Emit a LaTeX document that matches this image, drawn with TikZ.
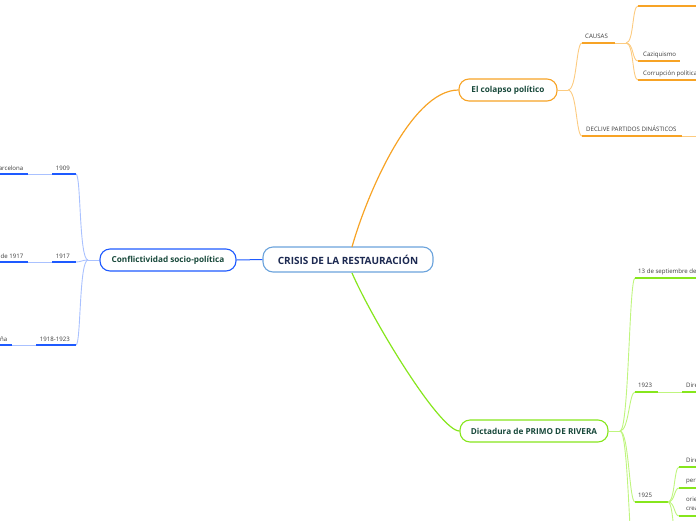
\documentclass[tikz,border=0pt]{standalone}
\usepackage{fontspec}
\setmainfont{Open Sans}
\definecolor{blueD}{HTML}{1E5AFF}
\definecolor{blueL}{HTML}{A9C1FF}
\definecolor{orD}{HTML}{F7A325}
\definecolor{orL}{HTML}{FCCB80}
\definecolor{grD}{HTML}{86E61C}
\definecolor{grL}{HTML}{BFF57E}
\definecolor{cborder}{HTML}{6BA3DC}
\definecolor{navy}{HTML}{1C2951}
\definecolor{dkgreen}{HTML}{17483A}
\definecolor{leaftxt}{HTML}{3A3A3A}
\tikzset{
  topic/.style={draw, fill=white, rounded corners=10pt, line width=1.1pt, inner sep=0pt,
    font=\bfseries\fontsize{8.2}{9.5}\selectfont, text=dkgreen, minimum height=22pt},
  leaf/.style={inner sep=0pt, font=\fontsize{6.1}{7}\selectfont, text=leaftxt},
  uline/.style={line width=1.6pt},
  conn/.style={line width=0.9pt}
}
\begin{document}
\begin{tikzpicture}[x=1pt,y=-1pt]
\useasboundingbox (0,0) rectangle (696,520);
\clip (0,0) rectangle (696,520);

% ---------- main nodes ----------
\node[topic, draw=cborder, text=navy, minimum width=170pt, minimum height=25pt,
      font=\bfseries\fontsize{10}{12}\selectfont] (c) at (348,259.5) {CRISIS DE LA RESTAURACIÓN};
\node[topic, draw=blueD, minimum width=136pt] (conf) at (168,260) {Conflictividad socio-política};
\node[topic, draw=orD, minimum width=98pt] (col) at (508,90) {El colapso político};
\node[topic, draw=grD, minimum width=148pt] (dict) at (534,431) {Dictadura de PRIMO DE RIVERA};

% ---------- main connectors ----------
\draw[blueD, line width=1pt] (c.west) -- (conf.east);
\coordinate (cTop) at (352,247);
\coordinate (cBot) at (352,273);
\draw[orD, line width=1.2pt] (cTop) .. controls (365,200) and (410,90) .. (col.west);
\draw[grD, line width=1.2pt] (cBot) .. controls (374,323) and (440,431) .. (dict.west);

% ---------- left branch ----------
\coordinate (lb) at (88,260);
\draw[blueL, conn] (conf.west) -- (lb);
\coordinate (u1909) at (76,174);
\coordinate (u1917) at (76,262);
\coordinate (u1918) at (76,345);
\draw[blueL, conn] (lb) .. controls +(-9,0) and +(5,0) .. (u1909);
\draw[blueL, conn] (lb) .. controls +(-6,0) and +(5,0) .. (u1917);
\draw[blueL, conn] (lb) .. controls +(-9,0) and +(5,0) .. (u1918);

\node[leaf, anchor=base east] (t1909) at (70,170) {1909};
\node[leaf, anchor=base east] (tBarc) at (23.5,170) {Semana Trágica de Barcelona};
\coordinate (a1) at (52,174); \coordinate (a2) at (28,174); \coordinate (a3) at (0,174);
\draw[blueD, uline] (u1909) -- (a1);
\draw[blueL, conn] (a1) -- (a2);
\draw[blueD, uline] (a2) -- (a3);

\node[leaf, anchor=base east] (t1917) at (70,258) {1917};
\node[leaf, anchor=base east] (tCris) at (23.5,258) {Crisis de 1917};
\coordinate (b1) at (52,262); \coordinate (b2) at (28,262); \coordinate (b3) at (0,262);
\draw[blueD, uline] (u1917) -- (b1);
\draw[blueL, conn] (b1) -- (b2);
\draw[blueD, uline] (b2) -- (b3);

\node[leaf, anchor=base east] (t1918) at (70,341) {1918-1923};
\node[leaf, anchor=base east] (tCat) at (7.5,341) {Pistolerismo en Cataluña};
\coordinate (d1) at (36,345); \coordinate (d2) at (12,345); \coordinate (d3) at (0,345);
\draw[blueD, uline] (u1918) -- (d1);
\draw[blueL, conn] (d1) -- (d2);
\draw[blueD, uline] (d2) -- (d3);

% ---------- top right branch ----------
\coordinate (rb) at (568,90);
\draw[orL, conn] (col.east) -- (rb);
\coordinate (uCau) at (582,43);
\coordinate (uDec) at (582,136);
\draw[orL, conn] (rb) .. controls +(9,0) and +(-6,0) .. (uCau);
\draw[orL, conn] (rb) .. controls +(9,0) and +(-6,0) .. (uDec);

\node[leaf, anchor=base west] (tCau) at (585,38) {CAUSAS};
\coordinate (cau1) at (615,43); \coordinate (cb) at (626,43);
\draw[orD, uline] (uCau) -- (cau1);
\draw[orL, conn] (cau1) -- (cb);

\coordinate (uTop) at (638,6);
\coordinate (uCaz) at (638,61);
\coordinate (uCor) at (638,80);
\draw[orL, conn] (cb) .. controls +(8,0) and +(-6,0) .. (uTop);
\draw[orL, conn] (cb) .. controls +(8,0) and +(-6,0) .. (uCaz);
\draw[orL, conn] (cb) .. controls +(8,0) and +(-6,0) .. (uCor);
\coordinate (eTop) at (696,6);
\draw[orD, uline] (uTop) -- (eTop);
\node[leaf, anchor=base west] (tCaz) at (643,56.5) {Caziquismo};
\coordinate (eCaz) at (680,61);
\draw[orD, uline] (uCaz) -- (eCaz);
\node[leaf, anchor=base west] (tCor) at (643,75.5) {Corrupción política};
\coordinate (eCor) at (696,80);
\draw[orD, uline] (uCor) -- (eCor);

\node[leaf, anchor=base west] (tDec) at (586,131) {DECLIVE PARTIDOS DINÁSTICOS};
\coordinate (dec1) at (682,136); \coordinate (dec2) at (696,136);
\draw[orD, uline] (uDec) -- (dec1);
\draw[orL, conn] (dec1) -- (dec2);

% ---------- bottom right branch ----------
\coordinate (gb) at (620,431);
\draw[grL, conn] (dict.east) -- (gb);
\coordinate (u13) at (635,278);
\coordinate (u23) at (635,392);
\coordinate (u25) at (635,502);
\coordinate (uOff) at (635,570);
\draw[grL, conn] (gb) .. controls +(9,0) and +(-6,0) .. (u13);
\draw[grL, conn] (gb) .. controls +(9,0) and +(-6,0) .. (u23);
\draw[grL, conn] (gb) .. controls +(9,0) and +(-6,0) .. (u25);
\draw[grL, conn] (gb) .. controls +(9,0) and +(-6,0) .. (uOff);

\node[leaf, anchor=base west] (t13) at (638,273) {13 de septiembre de 1923};
\coordinate (e13) at (696,278);
\draw[grD, uline] (u13) -- (e13);

\node[leaf, anchor=base west] (t23) at (638,387) {1923};
\coordinate (g1) at (658,392); \coordinate (g2) at (682,392); \coordinate (g3) at (696,392);
\draw[grD, uline] (u23) -- (g1);
\draw[grL, conn] (g1) -- (g2);
\draw[grD, uline] (g2) -- (g3);
\node[leaf, anchor=base west] (tDirM) at (686,387) {Directorio Militar};

\node[leaf, anchor=base west] (t25) at (638,497) {1925};
\coordinate (h1) at (668,502);
\draw[grD, uline] (u25) -- (h1);
\coordinate (uDirC) at (679,467);
\coordinate (uPer) at (679,488);
\coordinate (uOri) at (679,516);
\coordinate (uOff2) at (679,570);
\draw[grL, conn] (h1) .. controls +(7,0) and +(-5,0) .. (uDirC);
\draw[grL, conn] (h1) .. controls +(7,0) and +(-5,0) .. (uPer);
\draw[grL, conn] (h1) .. controls +(7,0) and +(-5,0) .. (uOri);
\draw[grL, conn] (h1) .. controls +(7,0) and +(-5,0) .. (uOff2);
\coordinate (eDirC) at (696,467);
\coordinate (ePer) at (696,488);
\coordinate (eOri) at (696,516);
\draw[grD, uline] (uDirC) -- (eDirC);
\draw[grD, uline] (uPer) -- (ePer);
\draw[grD, uline] (uOri) -- (eOri);
\node[leaf, anchor=base west] (tDirC) at (686,462) {Directorio Civil};
\node[leaf, anchor=base west] (tPer) at (686,482.5) {persecución};
\node[leaf, anchor=base west] (tOri) at (686,501) {orientación};
\node[leaf, anchor=base west] (tCre) at (686,510.5) {creación};
\end{tikzpicture}
\end{document}
